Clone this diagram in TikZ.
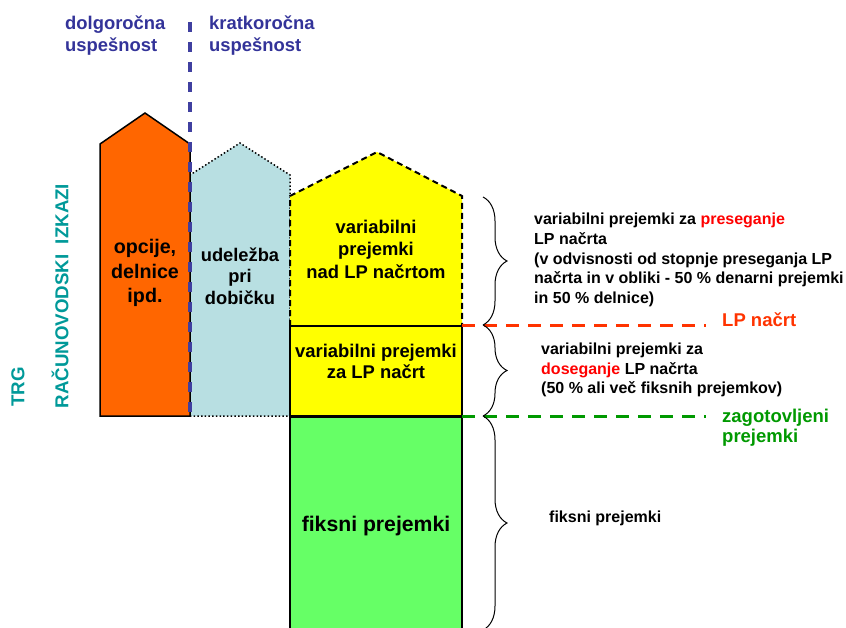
\documentclass[tikz,border=0pt]{standalone}
\usepackage{fontspec}
\setmainfont{Liberation Sans}
\usepackage{tikz}
\usetikzlibrary{positioning,decorations.pathreplacing}
\definecolor{optorange}{HTML}{FF6600}
\definecolor{profitblue}{HTML}{B8DFE2}
\definecolor{varyellow}{HTML}{FFFF00}
\definecolor{fixgreen}{HTML}{66FF66}
\definecolor{headblue}{HTML}{333399}
\definecolor{splitblue}{HTML}{4040A0}
\definecolor{marketteal}{HTML}{009999}
\definecolor{planred}{HTML}{FF3300}
\definecolor{wordred}{HTML}{FF0000}
\definecolor{safegreen}{HTML}{009900}
\newcommand{\fsz}[2]{\fontsize{#1}{#2}\selectfont\bfseries}
\tikzset{
  house/.style={line width=1.5pt,line join=miter,draw=black,fill=#1},
  house/.default={optorange},
  boxlabel/.style={inner sep=0pt,align=center,text=black,font=\fsz{18.4}{22.5}},
  note/.style={inner sep=0pt,align=left,anchor=west,text=black,font=\fsz{16}{19.6}},
  headlbl/.style={inner sep=0pt,align=left,anchor=west,text=headblue,font=\fsz{18.4}{22}},
  sidelbl/.style={inner sep=0pt,rotate=90,text=marketteal,font=\fsz{18.7}{22}},
  levelline/.style={line width=3pt,dash pattern=on 13pt off 9pt,#1},
  levelline/.default={planred},
  notebrace/.style={decorate,decoration={brace,amplitude=24pt},line width=1pt},
}
\begin{document}
\begin{tikzpicture}[x=1pt,y=-1pt]
  \useasboundingbox (0,0) rectangle (846,627);
  \clip (0,0) rectangle (846,627);
  % columns
  \draw[house=profitblue,line width=1.5pt,dash pattern=on 1.5pt off 2.2pt]
    (190,416) -- (190,175) -- (240,143) -- (290,175) -- (290,416) -- cycle;
  \draw[house] (100,416) -- (100,144) -- (145,113) -- (190,144) -- (190,416) -- cycle;
  \draw[house=varyellow,line width=2pt,dash pattern=on 6pt off 4pt]
    (290,326) -- (290,196) -- (377,152) -- (462,196) -- (462,326) -- cycle;
  \draw[house=varyellow,line width=2pt] (290,326) rectangle (462,416);
  \draw[house=fixgreen,line width=2.5pt] (290,417) rectangle (462,640);
  % split between long and short term
  \coordinate (splittop) at (190,22);
  \coordinate (splitbot) at (190,416);
  \draw[splitblue,line width=3.2pt,dash pattern=on 10pt off 10pt] (splittop) -- (splitbot);
  \node[headlbl] (longlbl) at (65,36) {dolgoročna\\uspešnost};
  \node[headlbl] (shortlbl) at (209,36) {kratkoročna\\uspešnost};
  % labels in the columns
  \node[boxlabel,font=\fsz{19.7}{24.5}] (optlbl) at (145,273) {opcije,\\delnice\\ipd.};
  \node[boxlabel,font=\fsz{18.3}{21.5}] (profitlbl) at (240,276) {udeležba\\pri\\dobičku};
  \node[boxlabel] (abovelbl) at (376,249) {variabilni\\prejemki\\nad LP načrtom};
  \node[boxlabel,font=\fsz{18.4}{21}] (planlbl) at (376,361) {variabilni prejemki\\za LP načrt};
  \node[boxlabel,font=\fsz{21.2}{25}] (fixlbl) at (376,526) {fiksni prejemki};
  % side labels
  \node[sidelbl] (marketlbl) at (18,387) {TRG};
  \node[sidelbl] (accountlbl) at (60,296) {RAČUNOVODSKI\ \ IZKAZI};
  % level lines
  \coordinate (planstart) at (462,325);
  \coordinate (planend) at (706,325);
  \coordinate (safestart) at (462,416);
  \coordinate (safeend) at (706,416);
  \draw[levelline] (planstart) -- (planend);
  \draw[levelline=safegreen] (safestart) -- (safeend);
  \node[note,text=planred,font=\fsz{18.5}{20}] (planname) at (722,320) {LP načrt};
  \node[note,text=safegreen,font=\fsz{18.5}{20}] (safename) at (722,428) {zagotovljeni\\prejemki};
  % braces and notes
  \coordinate (bracea) at (483,197);
  \coordinate (braceb) at (483,325);
  \coordinate (bracec) at (483,416);
  \coordinate (braced) at (483,630);
  \draw[notebrace] (bracea) -- (braceb);
  \draw[notebrace] (braceb) -- (bracec);
  \draw[notebrace] (bracec) -- (braced);
  \node[note] (abovenote) at (534,260) {variabilni prejemki za {\color{wordred}preseganje}\\
    LP načrta\\(v odvisnosti od stopnje preseganja LP\\
    načrta in v obliki - 50 \% denarni prejemki\\in 50 \% delnice)};
  \node[note] (plannote) at (541,370) {variabilni prejemki za\\
    {\color{wordred}doseganje} LP načrta\\(50 \% ali več fiksnih prejemkov)};
  \node[note] (fixnote) at (549,518) {fiksni prejemki};
\end{tikzpicture}
\end{document}
